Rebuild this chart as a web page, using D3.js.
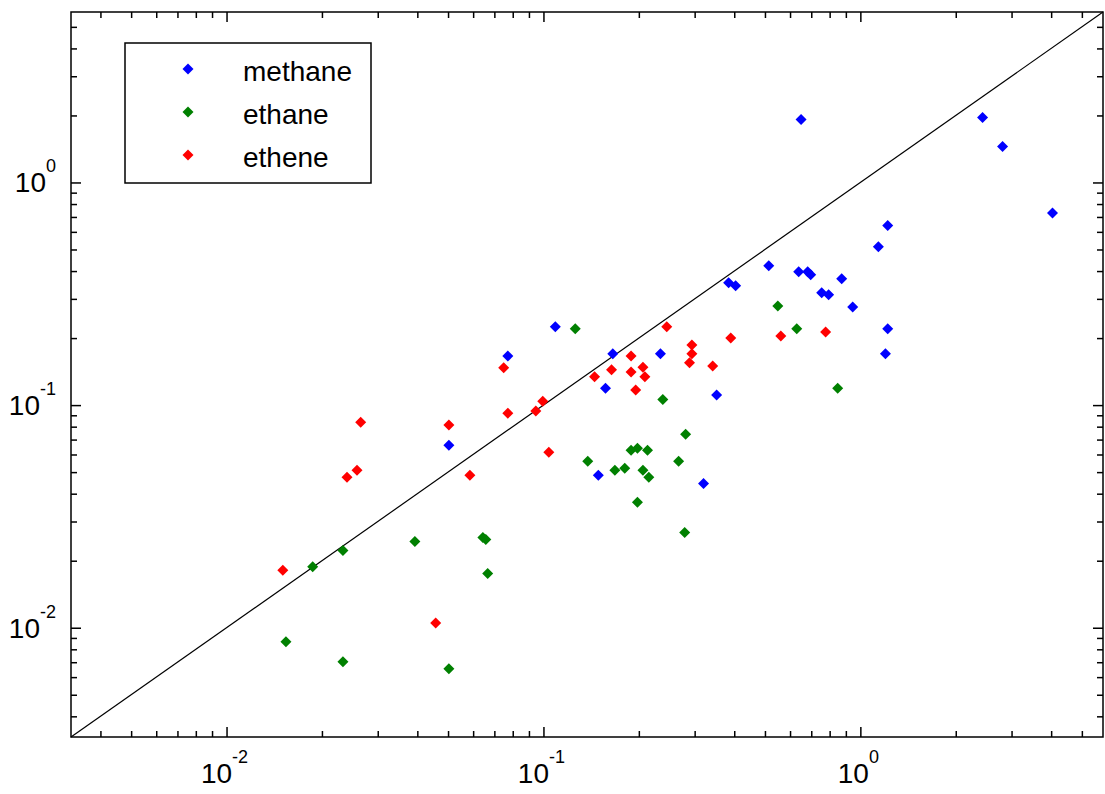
<!DOCTYPE html>
<html>
<head>
<meta charset="utf-8">
<script src="https://cdn.jsdelivr.net/npm/d3@7"></script>
<style>
    body { margin: 0; background: #fff; }
    svg text { font-family: "Liberation Sans", Arial, sans-serif; fill: #000; }
</style>
</head>
<body>
<svg id="chart"></svg>
<script>
// values, [x, y]
const methane = [
    [0.65, 1.92], [2.43, 1.96], [2.81, 1.45], [4.04, 0.73], [1.22, 0.64],
    [1.14, 0.515], [0.514, 0.423], [0.639, 0.397], [0.682, 0.397], [0.697, 0.385],
    [0.873, 0.369], [0.384, 0.354], [0.404, 0.344], [0.755, 0.32], [0.794, 0.313],
    [0.946, 0.276], [1.22, 0.22], [1.2, 0.17], [0.109, 0.225], [0.0772, 0.166],
    [0.1655, 0.17], [0.234, 0.17], [0.157, 0.119], [0.352, 0.111], [0.0503, 0.066],
    [0.149, 0.0484], [0.32, 0.0445]
];
const ethane = [
    [0.126, 0.22], [0.549, 0.279], [0.63, 0.22], [0.848, 0.119], [0.238, 0.106],
    [0.281, 0.074], [0.138, 0.056], [0.189, 0.0627], [0.198, 0.064], [0.213, 0.0627],
    [0.267, 0.0559], [0.168, 0.051], [0.1805, 0.052], [0.206, 0.051], [0.215, 0.0474],
    [0.198, 0.0366], [0.279, 0.0268], [0.0393, 0.0244], [0.0644, 0.0254], [0.0658, 0.0249],
    [0.0667, 0.0175], [0.0233, 0.0222], [0.0187, 0.0188], [0.0154, 0.00865], [0.0233, 0.00703],
    [0.0503, 0.00654]
];
const ethene = [
    [0.245, 0.225], [0.39, 0.2], [0.561, 0.2045], [0.777, 0.213], [0.294, 0.186],
    [0.294, 0.17], [0.289, 0.155], [0.189, 0.166], [0.164, 0.144], [0.189, 0.141],
    [0.206, 0.148], [0.209, 0.134], [0.145, 0.134], [0.1955, 0.117], [0.342, 0.15],
    [0.0749, 0.147], [0.0772, 0.092], [0.0995, 0.104], [0.0946, 0.094], [0.104, 0.0614],
    [0.0265, 0.0838], [0.0503, 0.0813], [0.0258, 0.051], [0.024, 0.0474], [0.0586, 0.0484],
    [0.01505, 0.0181], [0.0457, 0.0105]
];
const seriesNames = ["methane", "ethane", "ethene"];
const majorTicks = [0.01, 0.1, 1];
const tickExponents = ["-2", "-1", "0"];

const width = 1105;
const height = 794;
const plot = { left: 71, right: 1103, top: 12, bottom: 737 };
const domain = [0.00323, 5.83];
const colors = ["#0000ff", "#008000", "#ff0000"];

const svg = d3.select("#chart")
    .attr("width", width)
    .attr("height", height);

const x = d3.scaleLog().domain(domain).range([plot.left, plot.right]);
const y = d3.scaleLog().domain(domain).range([plot.bottom, plot.top]);

// minor ticks 2..9 in each decade
let minorTicks = [];
for (let e = -3; e <= 0; e++) {
    for (let k = 2; k <= 9; k++) {
        const v = k * Math.pow(10, e);
        if (v > domain[0] && v < domain[1]) minorTicks.push(v);
    }
}

function drawAxis(axisFn, scale, pos, size, values) {
    const g = svg.append("g")
        .attr("transform", pos)
        .call(axisFn(scale).tickValues(values).tickSize(-size).tickSizeOuter(0).tickFormat(""));
    g.select(".domain").remove();
    g.selectAll("line").attr("stroke", "#000").attr("stroke-width", 1.5);
}

[[minorTicks, 6], [majorTicks, 10]].forEach(([vals, size]) => {
    drawAxis(d3.axisBottom, x, `translate(0,${plot.bottom})`, size, vals);
    drawAxis(d3.axisTop, x, `translate(0,${plot.top})`, size, vals);
    drawAxis(d3.axisLeft, y, `translate(${plot.left},0)`, size, vals);
    drawAxis(d3.axisRight, y, `translate(${plot.right},0)`, size, vals);
});

// frame
svg.append("rect")
    .attr("x", plot.left).attr("y", plot.top)
    .attr("width", plot.right - plot.left).attr("height", plot.bottom - plot.top)
    .attr("fill", "none")
    .attr("stroke", "#000")
    .attr("stroke-width", 1.5);

// tick labels 10^n
majorTicks.forEach((v, i) => {
    const tx = svg.append("text")
        .attr("x", x(v) - 2)
        .attr("y", plot.bottom + 46)
        .attr("text-anchor", "middle")
        .style("font-size", "28px");
    tx.append("tspan").text("10");
    tx.append("tspan").attr("dy", -20).style("font-size", "18px").text(tickExponents[i]);

    const ty = svg.append("text")
        .attr("x", 56)
        .attr("y", y(v) + 10)
        .attr("text-anchor", "end")
        .style("font-size", "28px");
    ty.append("tspan").text("10");
    ty.append("tspan").attr("dy", -20).style("font-size", "18px").text(tickExponents[i]);
});

// y = x reference line
svg.append("line")
    .attr("x1", x(domain[0])).attr("y1", y(domain[0]))
    .attr("x2", x(domain[1])).attr("y2", y(domain[1]))
    .attr("stroke", "#000")
    .attr("stroke-width", 1.2);

const diamond = "M0,-5.5L5.5,0L0,5.5L-5.5,0Z";

[methane, ethane, ethene].forEach((series, i) => {
    svg.append("g")
        .selectAll("path")
        .data(series)
        .enter()
        .append("path")
        .attr("d", diamond)
        .attr("transform", d => `translate(${x(d[0])},${y(d[1])})`)
        .attr("fill", colors[i]);
});

// legend
const legend = svg.append("g");
legend.append("rect")
    .attr("x", 125).attr("y", 43)
    .attr("width", 246).attr("height", 140)
    .attr("fill", "#fff")
    .attr("stroke", "#000")
    .attr("stroke-width", 1.5);

seriesNames.forEach((name, i) => {
    const ly = 69 + i * 43;
    legend.append("path")
        .attr("d", diamond)
        .attr("transform", `translate(188,${ly})`)
        .attr("fill", colors[i]);
    legend.append("text")
        .attr("x", 243)
        .attr("y", ly + 12)
        .style("font-size", "28px")
        .text(name);
});
</script>
</body>
</html>
